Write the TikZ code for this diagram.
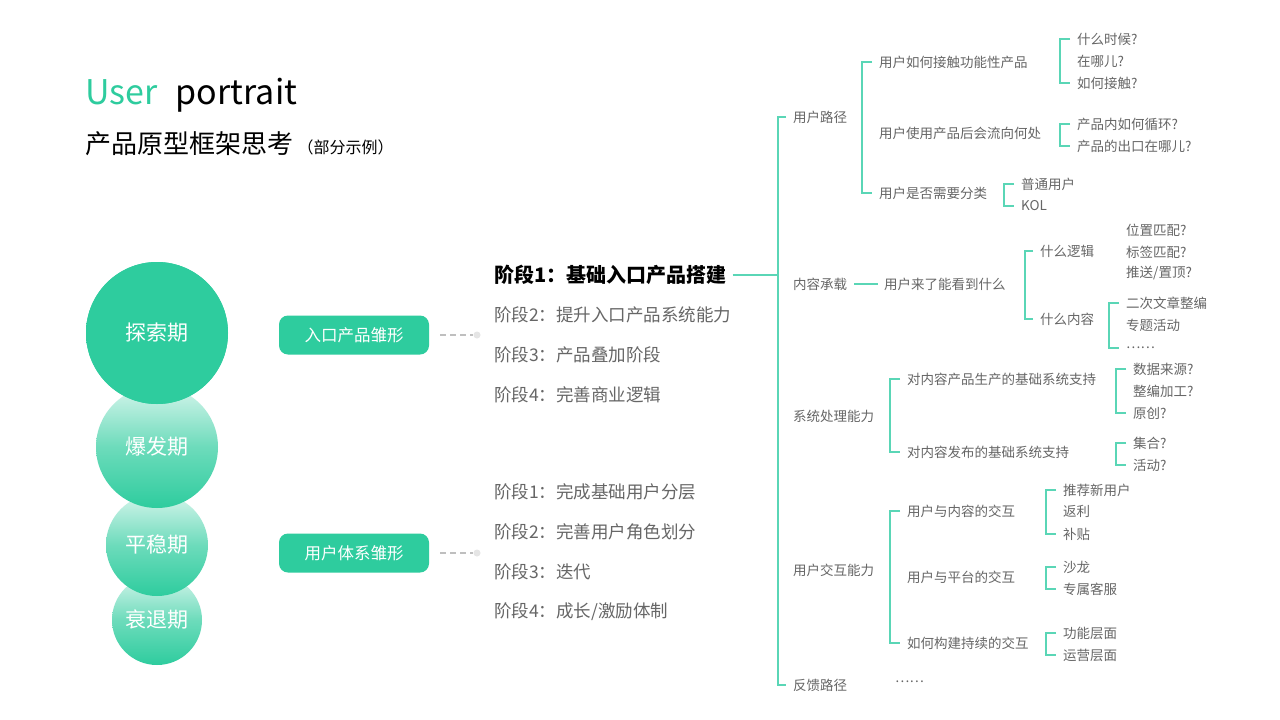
\documentclass[tikz,border=0pt]{standalone}
\usepackage{fontspec}
\setmainfont{Noto Sans CJK SC}
\usetikzlibrary{positioning}
\definecolor{teal1}{HTML}{2ECC9E}
\definecolor{tealline}{HTML}{5AD6B6}
\definecolor{txtgrey}{HTML}{666666}
\begin{document}
\begin{tikzpicture}[
        x=1pt, y=-1pt,
        leaf/.style={anchor=west, inner sep=0pt, font=\fontsize{13.5}{13.5}\selectfont, text=txtgrey},
        stage/.style={anchor=west, inner sep=0pt, font=\fontsize{17.5}{17.5}\selectfont, text=txtgrey},
        phase/.style={circle, inner sep=0pt, top color=teal1!20, bottom color=teal1, middle color=teal1!70, text=white, font=\fontsize{21}{21}\selectfont},
        pill/.style={rectangle, rounded corners=9pt, fill=teal1, text=white, minimum width=150pt, minimum height=39pt, font=\fontsize{16.5}{16.5}\selectfont},
        br/.style={draw=tealline, line width=1.4pt}
    ]
        \fill[white] (0,0) rectangle (1280,720);
        \useasboundingbox (0,0) rectangle (1280,720);

        % Title
        \node (user) [anchor=base west, inner sep=0pt, text=teal1, font=\fontsize{34}{34}\selectfont] at (85,104) {User};
        \node (portrait) [anchor=base west, inner sep=0pt, font=\fontsize{34}{34}\selectfont, right=18pt of user.base east, anchor=base west] {portrait};
        \node (subtitle) [anchor=base west, inner sep=0pt, font=\fontsize{26}{26}\selectfont] at (85,153) {产品原型框架思考\,{\fontsize{16}{16}\selectfont（部分示例）}};

        % Phases
        \node (decline) [phase, minimum size=90pt] at (157,620) {衰退期};
        \node (steady) [phase, minimum size=102pt] at (157,545) {平稳期};
        \node (burst) [phase, minimum size=122pt] at (157,447) {爆发期};
        \node (explore) [phase, minimum size=142pt, fill=teal1, top color=teal1, bottom color=teal1] at (157,333) {探索期};

        % Prototypes
        \node (entry) [pill] at (354,335) {入口产品雏形};
        \node (usersys) [pill] at (354,553) {用户体系雏形};
        \node (dot1) [circle, fill=gray!20, inner sep=0pt, minimum size=7pt] at (477,335) {};
        \node (dot2) [circle, fill=gray!20, inner sep=0pt, minimum size=7pt] at (477,553) {};
        \draw [gray!50, line width=1.3pt, dash pattern=on 6pt off 4pt] ([xshift=11pt]entry.east) -- (dot1.west);
        \draw [gray!50, line width=1.3pt, dash pattern=on 6pt off 4pt] ([xshift=11pt]usersys.east) -- (dot2.west);

        % Stages
        \node (s1) [stage, text=black, font=\fontsize{20}{20}\bfseries\selectfont] at (494,275) {阶段1：基础入口产品搭建};
        \node (s2) [stage] at (494,315) {阶段2：提升入口产品系统能力};
        \node (s3) [stage] at (494,355) {阶段3：产品叠加阶段};
        \node (s4) [stage] at (494,395) {阶段4：完善商业逻辑};
        \node (u1) [stage] at (494,492) {阶段1：完成基础用户分层};
        \node (u2) [stage] at (494,532) {阶段2：完善用户角色划分};
        \node (u3) [stage] at (494,572) {阶段3：迭代};
        \node (u4) [stage] at (494,612) {阶段4：成长/激励体制};

        % Level 1
        \node (path) [leaf] at (793,117) {用户路径};
        \node (content) [leaf] at (793,284) {内容承载};
        \node (system) [leaf] at (793,416) {系统处理能力};
        \node (interact) [leaf] at (793,570) {用户交互能力};
        \node (feedback) [leaf] at (793,685) {反馈路径};
        \node (fbdots) [leaf] at (895,682) {……};
        \coordinate (spine) at (778,275);
        \draw [br] ([xshift=6pt]s1.east) -- (spine);
        \draw [br] ([xshift=-7pt]path.west) -- ++(-8,0) |- ([xshift=-7pt]feedback.west);

        % Level 2
        \node (touch) [leaf] at (879,62) {用户如何接触功能性产品};
        \node (flow) [leaf] at (879,133) {用户使用产品后会流向何处};
        \node (classify) [leaf] at (879,193) {用户是否需要分类};
        \draw [br] ([xshift=-7pt]touch.west) -- ++(-10,0) |- ([xshift=-7pt]classify.west);
        \node (see) [leaf] at (884,284) {用户来了能看到什么};
        \draw [br] ([xshift=7pt]content.east) -- ([xshift=-6pt]see.west);
        \node (produce) [leaf] at (907,379) {对内容产品生产的基础系统支持};
        \node (publish) [leaf] at (907,452) {对内容发布的基础系统支持};
        \draw [br] ([xshift=-7pt]produce.west) -- ++(-10,0) |- ([xshift=-7pt]publish.west);
        \node (withcontent) [leaf] at (907,511) {用户与内容的交互};
        \node (withplat) [leaf] at (907,577) {用户与平台的交互};
        \node (lasting) [leaf] at (907,643) {如何构建持续的交互};
        \draw [br] ([xshift=-7pt]withcontent.west) -- ++(-10,0) |- ([xshift=-7pt]lasting.west);

        % Level 3
        \node (when) [leaf] at (1077,39) {什么时候?};
        \node (where) [leaf] at (1077,61) {在哪儿?};
        \node (how) [leaf] at (1077,83) {如何接触?};
        \draw [br] ([xshift=-7pt]when.west) -- ++(-10,0) |- ([xshift=-7pt]how.west);
        \node (loop) [leaf] at (1077,124) {产品内如何循环?};
        \node (exit) [leaf] at (1077,146) {产品的出口在哪儿?};
        \draw [br] ([xshift=-7pt]loop.west) -- ++(-10,0) |- ([xshift=-7pt]exit.west);
        \node (normal) [leaf] at (1021,184) {普通用户};
        \node (kol) [leaf] at (1021,206) {KOL};
        \draw [br] ([xshift=-7pt]normal.west) -- ++(-10,0) |- ([xshift=-7pt]kol.west);
        \node (logic) [leaf] at (1040,251) {什么逻辑};
        \node (what) [leaf] at (1040,319) {什么内容};
        \draw [br] ([xshift=-7pt]logic.west) -- ++(-8,0) |- ([xshift=-7pt]what.west);
        \node (posmatch) [leaf] at (1126,230) {位置匹配?};
        \node (tagmatch) [leaf] at (1126,252) {标签匹配?};
        \node (push) [leaf] at (1126,273) {推送/置顶?};
        \node (rewrite) [leaf] at (1126,303) {二次文章整编};
        \node (topic) [leaf] at (1126,325) {专题活动};
        \node (more) [leaf] at (1126,348) {……};
        \draw [br] ([xshift=-7pt]rewrite.west) -- ++(-10,0) |- ([xshift=-7pt]more.west);
        \node (source) [leaf] at (1133,369) {数据来源?};
        \node (edit) [leaf] at (1133,391) {整编加工?};
        \node (orig) [leaf] at (1133,413) {原创?};
        \draw [br] ([xshift=-7pt]source.west) -- ++(-10,0) |- ([xshift=-7pt]orig.west);
        \node (collect) [leaf] at (1133,443) {集合?};
        \node (event) [leaf] at (1133,465) {活动?};
        \draw [br] ([xshift=-7pt]collect.west) -- ++(-10,0) |- ([xshift=-7pt]event.west);
        \node (newuser) [leaf] at (1063,490) {推荐新用户};
        \node (rebate) [leaf] at (1063,511) {返利};
        \node (subsidy) [leaf] at (1063,534) {补贴};
        \draw [br] ([xshift=-7pt]newuser.west) -- ++(-10,0) |- ([xshift=-7pt]subsidy.west);
        \node (salon) [leaf] at (1063,567) {沙龙};
        \node (service) [leaf] at (1063,589) {专属客服};
        \draw [br] ([xshift=-7pt]salon.west) -- ++(-10,0) |- ([xshift=-7pt]service.west);
        \node (func) [leaf] at (1063,633) {功能层面};
        \node (ops) [leaf] at (1063,655) {运营层面};
        \draw [br] ([xshift=-7pt]func.west) -- ++(-10,0) |- ([xshift=-7pt]ops.west);
    \end{tikzpicture}
\end{document}
